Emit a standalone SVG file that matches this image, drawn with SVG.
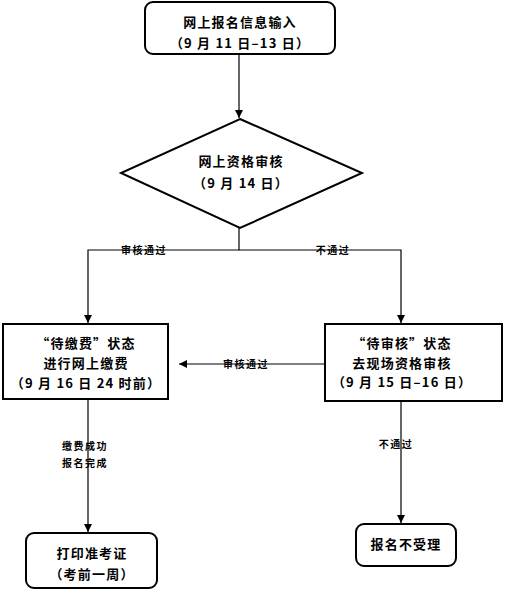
<svg xmlns="http://www.w3.org/2000/svg" width="507" height="591" viewBox="0 0 507 591">
<style>
.box{fill:#fff;stroke:#000;stroke-width:2}
.t{font-family:"Noto Sans CJK SC","Noto Sans CJK JP",sans-serif;font-weight:bold;font-size:13px;letter-spacing:1.2px;text-anchor:middle;dominant-baseline:central;fill:#000}
.l{font-family:"Noto Sans CJK SC","Noto Sans CJK JP",sans-serif;font-weight:bold;font-size:10px;letter-spacing:1.5px;text-anchor:middle;dominant-baseline:central;fill:#000}
.c{fill:none;stroke:#000;stroke-width:1.2}
</style>
<defs>
<marker id="ah" viewBox="0 0 10 10" refX="10" refY="5" markerWidth="8" markerHeight="8" markerUnits="userSpaceOnUse" orient="auto">
<path d="M0,0 L10,5 L0,10 z" fill="#000"/>
</marker>
</defs>
<g id="connectors">
<path class="c" d="M239,54 V118" marker-end="url(#ah)"/>
<path class="c" d="M239,228 V250 H88 V323" marker-end="url(#ah)"/>
<path class="c" d="M239,250 H401 V323" marker-end="url(#ah)"/>
<path class="c" d="M325,364 H179" marker-end="url(#ah)"/>
<path class="c" d="M88,400 V532" marker-end="url(#ah)"/>
<path class="c" d="M401,402 V523" marker-end="url(#ah)"/>
<text class="l" x="144" y="249">审核通过</text>
<text class="l" x="333" y="249">不通过</text>
<text class="l" x="246" y="363">审核通过</text>
<text class="l" x="85" y="445">缴费成功</text>
<text class="l" x="85" y="462">报名完成</text>
<text class="l" x="396" y="443">不通过</text>
</g>
<g id="n1">
<rect class="box" x="145" y="2" width="190" height="52" rx="8"/>
<text class="t" x="240" y="21">网上报名信息输入</text>
<text class="t" x="240" y="42">（9 月 11 日–13 日）</text>
</g>
<g id="n2">
<polygon class="box" points="240,119 362,173 240,228 121,173"/>
<text class="t" x="241" y="160">网上资格审核</text>
<text class="t" x="241" y="182">（9 月 14 日）</text>
</g>
<g id="n3">
<rect class="box" x="3" y="324" width="165" height="75"/>
<text class="t" x="86" y="342">“待缴费”状态</text>
<text class="t" x="86" y="362">进行网上缴费</text>
<text class="t" x="86" y="382">（9 月 16 日 24 时前）</text>
</g>
<g id="n4">
<rect class="box" x="325" y="324" width="177" height="77"/>
<text class="t" x="402" y="342">“待审核”状态</text>
<text class="t" x="402" y="362">去现场资格审核</text>
<text class="t" x="402" y="381">（9 月 15 日–16 日）</text>
</g>
<g id="n5">
<rect class="box" x="26" y="533" width="131" height="55" rx="8"/>
<text class="t" x="92" y="552">打印准考证</text>
<text class="t" x="92" y="573">（考前一周）</text>
</g>
<g id="n6">
<rect class="box" x="356" y="524" width="100" height="42" rx="8"/>
<text class="t" x="406" y="543">报名不受理</text>
</g>
</svg>
